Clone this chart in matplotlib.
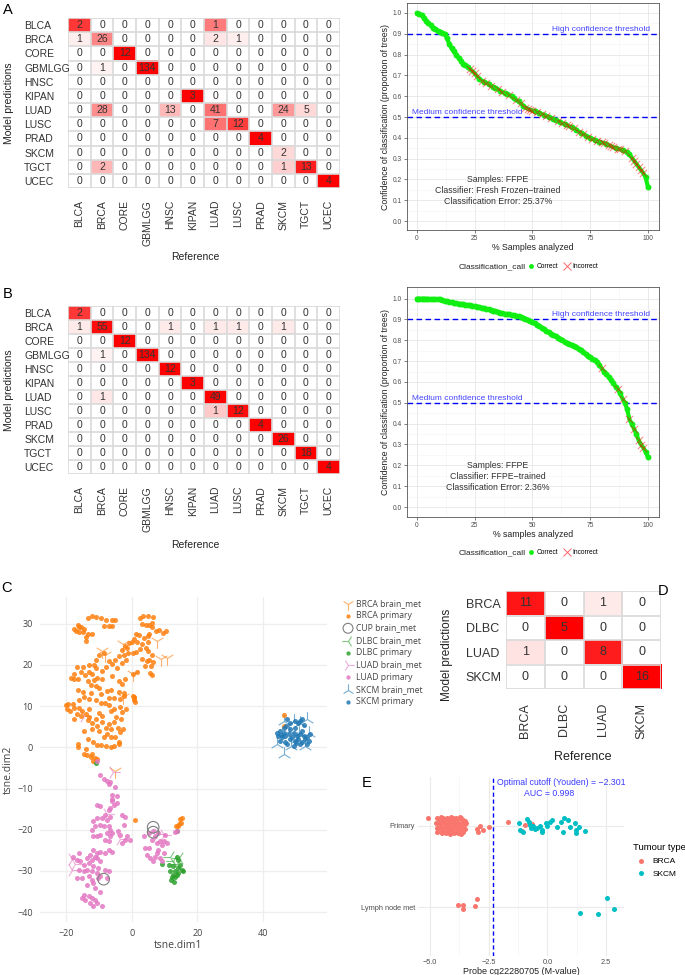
import numpy as np
import matplotlib
matplotlib.use('Agg')
import matplotlib.pyplot as plt
from matplotlib import colors
from matplotlib.lines import Line2D

plt.rcParams['font.family'] = ['Liberation Sans', 'DejaVu Sans']

W, H = 685, 975

# ---------------- data ----------------
classes = ['BLCA', 'BRCA', 'CORE', 'GBMLGG', 'HNSC', 'KIPAN',
           'LUAD', 'LUSC', 'PRAD', 'SKCM', 'TGCT', 'UCEC']

# rows = model predictions, cols = reference
cm_frozen = [
    [2, 0, 0, 0, 0, 0, 1, 0, 0, 0, 0, 0],
    [1, 26, 0, 0, 0, 0, 2, 1, 0, 0, 0, 0],
    [0, 0, 12, 0, 0, 0, 0, 0, 0, 0, 0, 0],
    [0, 1, 0, 134, 0, 0, 0, 0, 0, 0, 0, 0],
    [0, 0, 0, 0, 0, 0, 0, 0, 0, 0, 0, 0],
    [0, 0, 0, 0, 0, 3, 0, 0, 0, 0, 0, 0],
    [0, 28, 0, 0, 13, 0, 41, 0, 0, 24, 5, 0],
    [0, 0, 0, 0, 0, 0, 7, 12, 0, 0, 0, 0],
    [0, 0, 0, 0, 0, 0, 0, 0, 4, 0, 0, 0],
    [0, 0, 0, 0, 0, 0, 0, 0, 0, 2, 0, 0],
    [0, 2, 0, 0, 0, 0, 0, 0, 0, 1, 13, 0],
    [0, 0, 0, 0, 0, 0, 0, 0, 0, 0, 0, 4],
]
# all samples given each predicted label (tile shading = count / total)
pred_total_frozen = [3, 90, 12, 135, 0, 3, 111, 19, 4, 45, 16, 4]

cm_ffpe = [
    [2, 0, 0, 0, 0, 0, 0, 0, 0, 0, 0, 0],
    [1, 55, 0, 0, 1, 0, 1, 1, 0, 1, 0, 0],
    [0, 0, 12, 0, 0, 0, 0, 0, 0, 0, 0, 0],
    [0, 1, 0, 134, 0, 0, 0, 0, 0, 0, 0, 0],
    [0, 0, 0, 0, 12, 0, 0, 0, 0, 0, 0, 0],
    [0, 0, 0, 0, 0, 3, 0, 0, 0, 0, 0, 0],
    [0, 1, 0, 0, 0, 0, 49, 0, 0, 0, 0, 0],
    [0, 0, 0, 0, 0, 0, 1, 12, 0, 0, 0, 0],
    [0, 0, 0, 0, 0, 0, 0, 0, 4, 0, 0, 0],
    [0, 0, 0, 0, 0, 0, 0, 0, 0, 26, 0, 0],
    [0, 0, 0, 0, 0, 0, 0, 0, 0, 0, 18, 0],
    [0, 0, 0, 0, 0, 0, 0, 0, 0, 0, 0, 4],
]
pred_total_ffpe = [3, 60, 12, 135, 12, 3, 50, 13, 4, 26, 18, 4]

classes_brain = ['BRCA', 'DLBC', 'LUAD', 'SKCM']
cm_brain = [
    [11, 0, 1, 0],
    [0, 5, 0, 0],
    [1, 0, 8, 0],
    [0, 0, 0, 16],
]
pred_total_brain = [12, 5, 9, 16]

# sorted confidence of each sample (one value per % of samples)
conf_frozen = [1.00, 0.995, 0.99, 0.975, 0.96, 0.95, 0.94, 0.93, 0.925, 0.915,
               0.91, 0.905, 0.90, 0.88, 0.85, 0.83, 0.815, 0.80, 0.785, 0.77,
               0.755, 0.75, 0.74, 0.73, 0.72, 0.71, 0.695, 0.685, 0.675, 0.67,
               0.665, 0.66, 0.65, 0.645, 0.64, 0.635, 0.625, 0.62, 0.615, 0.61,
               0.605, 0.60, 0.59, 0.58, 0.575, 0.565, 0.555, 0.545, 0.54, 0.535,
               0.53, 0.53, 0.525, 0.52, 0.515, 0.51, 0.505, 0.50, 0.495, 0.49,
               0.485, 0.48, 0.475, 0.47, 0.465, 0.46, 0.455, 0.45, 0.445, 0.44,
               0.43, 0.425, 0.42, 0.41, 0.405, 0.40, 0.395, 0.39, 0.385, 0.38,
               0.378, 0.375, 0.37, 0.365, 0.36, 0.355, 0.35, 0.348, 0.345, 0.34,
               0.335, 0.33, 0.32, 0.305, 0.29, 0.275, 0.26, 0.245, 0.23, 0.21,
               0.165]
wrong_frozen = [23, 24, 25, 26, 28, 30, 32, 35, 37, 40, 43, 45, 47, 48, 49, 50,
                52, 54, 56, 58, 61, 63, 65, 66, 68, 70, 72, 74, 76, 78, 80, 81,
                83, 84, 85, 87, 88, 90, 93, 94, 95, 96, 97, 98]

conf_ffpe = [1.00, 1.00, 1.00, 1.00, 0.999, 0.999, 0.998, 0.998, 0.997, 0.997,
             0.996, 0.993, 0.99, 0.988, 0.985, 0.982, 0.98, 0.978, 0.976, 0.975,
             0.973, 0.971, 0.97, 0.968, 0.966, 0.964, 0.962, 0.96, 0.957, 0.954,
             0.951, 0.948, 0.945, 0.943, 0.94, 0.936, 0.932, 0.929, 0.927, 0.925,
             0.924, 0.922, 0.92, 0.918, 0.916, 0.913, 0.909, 0.904, 0.899, 0.893,
             0.887, 0.881, 0.875, 0.868, 0.861, 0.853, 0.845, 0.838, 0.832, 0.826,
             0.82, 0.813, 0.806, 0.80, 0.794, 0.788, 0.783, 0.778, 0.772, 0.766,
             0.76, 0.753, 0.745, 0.735, 0.727, 0.72, 0.712, 0.705, 0.695, 0.68,
             0.665, 0.65, 0.638, 0.625, 0.61, 0.595, 0.578, 0.565, 0.545, 0.52,
             0.50, 0.47, 0.42, 0.40, 0.375, 0.35, 0.32, 0.30, 0.285, 0.265,
             0.24]
wrong_ffpe = [80, 87, 89, 92, 94, 96, 97, 98]

# t-SNE of brain metastases + primaries
brca_met = [(-9.1, 23.4), (-8.3, 22.4), (-2.6, 25.2), (7.6, 25.9), (8.8, 21.5),
            (10.6, 21.6), (0.5, 17.9), (-2.6, 12.3), (-5.2, -5.7)]
brca_primary = [
    (-13.5, 31.5), (-12, 31.8), (-11, 31.7), (-9.5, 31.3), (-8, 30.8), (-6, 30.8),
    (-5, 30.8), (-8.5, 29.5), (-7, 29.4), (-6, 29.4), (-16.5, 29.7), (-15.5, 29.2),
    (-14.5, 28.8), (-17, 28.3), (-16, 28.0), (-15, 28.0), (-13.5, 27.5), (-12.2, 27.5),
    (-14, 26.8), (-14, 25.9), (-16, 29.2), (-17.5, 28.8),
    (2.5, 31.5), (3.5, 32), (5, 31.8), (6.5, 31.6), (3, 30), (4.2, 29.7), (5.2, 29.7),
    (6.2, 30.3), (6, 29.2), (7.5, 28.2), (8.3, 28.6), (9.5, 27.8), (10.3, 28.3),
    (5.2, 27.6), (4.8, 27), (3.6, 26.5), (2.3, 27.3), (1.2, 27.5), (0.8, 26.3),
    (1.5, 25.5), (0, 25.5), (-1, 25.3), (-1.5, 24.2), (3, 25), (5, 25.5),
    (-3, 23.6), (-2, 24.5), (-1.2, 23), (-2.5, 22.5), (-4, 22.2), (-5, 21.3),
    (-6, 20.3), (-7, 21), (-8.5, 22.8), (-10, 22.5), (-11, 21.2), (-8, 19.5),
    (-4.5, 19.3), (-3, 20.5), (-1.8, 21.3), (0.3, 22.8), (1.3, 23.2), (2.5, 23.8),
    (4.2, 24.0), (5, 23.3), (6, 22.3), (5.2, 21.2), (6.4, 20.8), (5.8, 19.8),
    (4.5, 21), (3, 21.5), (4, 19.8), (5.5, 18), (6, 17.5), (0.5, 17.8), (1.5, 18.3),
    (-2.2, 16.5), (-3, 15.5), (-6, 17.2), (-4, 16),
    (-16.7, 19.5), (-15, 19.6), (-13, 20.1), (-11.5, 20.0), (-10.8, 19.3), (-13, 18.2),
    (-15.5, 18.3), (-17.5, 17.8), (-18.5, 16.8), (-17.6, 16.5), (-16.5, 16.5),
    (-14.2, 17.5), (-12.2, 17.8), (-11.6, 16.4), (-10.5, 16.8), (-9, 18.5), (-9.2, 16.5),
    (-13.3, 16.2), (-12.5, 15.2), (-11, 14.8), (-10, 14.3), (-16.3, 14.0), (-15, 13.5),
    (-12.5, 13.2), (-9.5, 12.9), (-7.5, 13.8), (-6.5, 13.9), (-4, 13.5), (-2.5, 13.2),
    (-14.6, 12.2), (-16, 11.5), (-13, 11.8), (-11, 11.6), (-7, 12.1), (-5.5, 12),
    (-3.5, 11.7), (-2.5, 12.5), (-18, 10.5), (-19.5, 10.6), (-20, 10.2), (-19.8, 9.3),
    (-19, 8.8), (-17.5, 9.5), (-16, 9.5), (-16.8, 8.2), (-15.2, 8.8), (-14, 8.2),
    (-13, 9.2), (-15.5, 7.5), (-17.5, 7), (-13, 7.3), (-11, 7), (-10, 8.3), (-9, 7.5),
    (-8.2, 10.8), (-9.5, 10.8), (-7, 10.3), (-5.5, 9.4), (-6.5, 8.9), (-3.5, 9.7),
    (-1.8, 9.3), (-3, 8.7), (-4.7, 7.3), (-3.4, 7), (-5.3, 6.1), (-7, 5.6), (-9, 6.2),
    (-10.5, 5.2), (-12, 5.8), (-13.5, 6.7), (-14.5, 4.0), (-12, 4.5), (-10, 4.0),
    (-8, 4.7), (-6.5, 4.5), (-4.3, 4.8), (-2.8, 4.4), (-3.6, 3.7), (-7.5, 3.2),
    (-8.5, 2.5), (-6.5, 2.6), (-5, 2.5), (-13.5, 2.1), (-11.8, 1.3), (-10.5, 0.6),
    (-9.5, 0.6), (-8, 0.3), (-6.5, 0.2), (-5.4, 0.3), (-4, 1.2), (-3.8, 0.7),
    (-16.3, 0.8), (-16.5, 0.2), (-14, -0.5), (-13.8, -1.8), (-12.5, -2.4),
    (-11.3, -2.6), (-11.8, -3.2), (-10.6, -2.9), (-14.7, -1.5), (-12.2, -1.6),
    (0.5, 12.5), (0.8, 12.0), (0.6, 11.5), (0.9, 11.0), (0.7, 12.2),
    (1.0, -17.6), (14.8, -17.5), (15.3, -17.2), (15.1, -18.3), (14.5, -18.7),
    (14.0, -19.0), (13.6, -19.2), (46.4, 7.9), (46.4, 5.3)]
cup_met = [(6.5, -19.4), (6.5, -20.6), (-8.6, -32.0)]
dlbc_met = [(11.7, -26.6), (12.6, -27.6), (13.7, -28.4), (14.3, -26.9)]
dlbc_primary = [(-11.0, -3.8), (13.9, -20.3), (9.3, -28.3), (13.7, -26.5),
                (14.2, -27.3), (11.2, -28.5), (12.7, -28.9), (14.2, -29.3),
                (15.2, -29.7), (15.7, -30.1), (11.7, -30.1), (13.2, -30.1),
                (12.7, -30.9), (13.7, -30.9), (12.2, -31.5), (13.2, -31.5),
                (14.2, -30.5), (14.7, -28.5), (12.0, -32.3), (13.0, -32.6)]
luad_met = [(-14.5, 7.7), (-5.6, -6.0), (-7.6, -16.2), (-3.5, -22.3), (-18.3, -27.1),
            (-17.3, -28.3), (-18.3, -29.7), (8.1, -21.1), (9.7, -21.2)]
luad_primary = [
    (-10.7, -3.3), (-9.6, -6.75), (-8.6, -7.6), (-7.6, -8.1), (-6.6, -8.5),
    (-7.1, -8.9), (-5.1, -9.7), (-6.1, -11.6), (-4.6, -11.9), (-6.1, -12.6),
    (-4.6, -13.4), (-10.65, -13.9), (-9.64, -14.3), (-6.08, -13.1), (-5.57, -13.9),
    (-6.59, -14.7), (-7.1, -15.1), (-8.1, -16.4), (-6.6, -16.8), (-9.1, -17.2),
    (-7.6, -17.6), (-10.7, -17.2), (-11.7, -18.0), (-9.6, -18.8), (-11.2, -19.2),
    (-12.2, -20.0), (-8.6, -19.2), (-7.1, -19.2), (-6.6, -20.0), (-6.1, -20.8),
    (-7.6, -20.8), (-9.6, -21.2), (-10.7, -21.6), (-11.7, -21.6), (-6.6, -21.6),
    (-8.1, -22.4), (-7.1, -22.8), (-3.0, -16.4), (-2.0, -16.8), (-2.5, -18.8),
    (-4.1, -20.4), (-3.5, -21.2), (-1.5, -21.6), (-2.0, -22.4), (-0.5, -22.4),
    (-3.0, -23.2), (-7.1, -24.9), (-6.1, -25.3), (-8.1, -25.7), (-9.6, -25.3),
    (-10.7, -25.7), (-11.7, -24.9), (-12.7, -26.1), (-11.2, -26.5), (-13.7, -26.9),
    (-12.2, -27.3), (-10.7, -26.9), (-9.6, -27.7), (-16.2, -25.7), (-17.8, -26.5),
    (-16.8, -27.3), (-15.7, -27.7), (-14.7, -28.5), (-13.2, -28.1), (-11.7, -28.9),
    (-10.2, -29.3), (-8.1, -29.7), (-7.1, -30.1), (-16.2, -29.7), (-14.7, -30.1),
    (-13.7, -29.7), (-12.2, -30.1), (-10.7, -30.5), (-9.6, -31.3), (-16.8, -31.7),
    (-15.2, -31.7), (-13.2, -31.3), (-12.2, -32.1), (-11.7, -32.9), (-10.2, -31.7),
    (-13.7, -33.4), (-11.2, -34.2), (-9.6, -35.0), (-14.7, -35.8), (-13.2, -36.2),
    (-12.2, -36.6), (-11.2, -37.0), (-12.7, -37.8), (-10.7, -37.8), (-9.1, -38.6),
    (-11.7, -38.6), (-15.2, -36.6), (-14.2, -37.0), (-7.6, -31.7),
    (3.6, -21.6), (4.1, -24.4), (5.1, -24.4), (6.1, -22.4), (7.1, -21.6), (8.1, -20.8),
    (7.6, -23.2), (8.7, -22.8), (9.2, -23.6), (9.7, -22.8), (8.1, -24.9), (7.6, -25.7),
    (9.7, -25.7), (7.1, -26.5), (8.7, -26.9), (4.6, -26.1), (5.6, -26.9), (6.6, -27.7),
    (9.2, -27.7), (10.7, -23.2), (10.2, -21.2), (5.1, -20.8), (6.6, -20.4),
    (13.7, -20.4), (13.2, -20.6)]
skcm_met = [(46.3, 6.4), (49.4, 6.4), (51.4, 6.0), (53.5, 6.8), (47.9, 4.0),
            (51.0, 3.6), (54.0, 3.6), (44.2, 0.8), (46.3, -1.6), (50.3, 2.0),
            (52.9, 0.4), (48.4, 0.4)]
skcm_primary = [
    (47.3, 6.85), (48.3, 6.0), (49.8, 6.4), (50.8, 6.0), (51.3, 6.4), (51.8, 6.85),
    (44.2, 3.6), (45.2, 4.0), (46.3, 3.6), (44.7, 2.8), (45.8, 2.4), (46.8, 2.8),
    (47.8, 3.2), (49.3, 3.6), (50.3, 2.8), (51.3, 3.2), (52.4, 2.8), (53.4, 2.4),
    (54.4, 3.2), (45.2, 1.6), (46.8, 1.2), (48.3, 2.0), (49.8, 1.6), (50.8, 2.0),
    (51.8, 1.2), (52.9, 2.0), (53.9, 1.6), (47.3, 0.8), (49.3, 0.4), (51.3, 0.8),
    (53.4, 0.8), (46.3, 4.8), (48.3, 4.4), (49.8, 4.8), (47.0, 5.2), (52.6, 5.5),
    (48.9, 2.6), (50.0, 1.0), (45.5, 3.1), (52.0, 3.9)]

# probe cg22280705 M-values (y: 2 = Primary, 1 = Lymph node met, with jitter)
probe_brca_x = [-4.70, -4.62, -4.52, -4.44, -4.36, -4.27, -4.20, -4.12, -4.03, -3.96,
                -3.88, -3.80, -3.73, -3.66, -3.58, -3.50,
                -4.74, -4.66, -4.56, -4.48, -4.40, -4.31, -4.24, -4.16, -4.08, -4.00,
                -3.92, -3.84, -3.77, -3.69, -3.61, -3.53, -3.46,
                -4.71, -4.61, -4.53, -4.45, -4.37, -4.29, -4.21, -4.13, -4.05, -3.97,
                -3.89, -3.81, -3.74, -3.66, -3.59, -3.52,
                -4.68, -4.55, -4.47, -4.38, -4.30, -4.22, -4.14, -4.06, -3.98, -3.90,
                -3.82, -3.75, -3.67, -3.60,
                -5.07, -3.01, -2.94, -2.87, -2.73, -2.47, -1.68, -1.08, -0.95, -0.67,
                -3.80, -3.60, -3.58, -3.09, -3.01]
probe_brca_y = [2.10, 2.08, 2.11, 2.09, 2.07, 2.10, 2.08, 2.11, 2.09, 2.07,
                2.10, 2.08, 2.11, 2.09, 2.07, 2.06,
                2.03, 2.04, 2.02, 2.05, 2.03, 2.01, 2.04, 2.02, 2.05, 2.03,
                2.01, 2.04, 2.02, 2.03, 2.04, 2.02, 2.03,
                1.97, 1.97, 1.98, 1.96, 1.99, 1.97, 1.95, 1.98, 1.96, 1.99,
                1.97, 1.95, 1.98, 1.96, 1.97, 1.96,
                1.92, 1.92, 1.91, 1.93, 1.91, 1.92, 1.90, 1.92, 1.91, 1.93,
                1.91, 1.92, 1.90, 1.92,
                2.10, 1.96, 1.93, 2.00, 1.95, 1.98, 2.05, 1.94, 2.01, 2.02,
                1.03, 1.03, 0.98, 1.02, 1.10]
probe_skcm_x = [-1.21, -1.17, -1.06, -0.86, -0.77, -0.74, -0.72, -0.63, -0.53, -0.46,
                -0.25, -0.21, -0.32, -0.06, 0.00, 0.11, 0.21, 0.39, 0.56, 0.65,
                0.72, 0.86, 0.96, 1.17, 1.21, 1.21, 1.36, 1.60,
                2.52, 2.83, 1.38, 2.16]
probe_skcm_y = [2.04, 1.95, 1.93, 2.08, 2.05, 2.01, 1.97, 2.00, 1.96, 1.97,
                1.95, 1.92, 2.00, 2.04, 2.00, 2.05, 2.07, 1.98, 2.05, 1.93,
                2.09, 2.07, 1.98, 2.04, 1.91, 1.95, 1.99, 1.94,
                1.11, 0.975, 0.93, 0.92]
cutoff = -2.301
auc = 0.998


def box(x0, y0, x1, y1):
    # pixel box of the 685x975 canvas -> figure fraction
    return [x0 / W, 1 - y1 / H, (x1 - x0) / W, (y1 - y0) / H]


def ftext(px, py, s, **kw):
    fig.text(px / W, 1 - py / H, s, **kw)


fig = plt.figure(figsize=(6.85, 9.75), dpi=100)
red_map = colors.LinearSegmentedColormap.from_list('wr', ['#ffffff', '#ff0000'])


def confusion(ax, mat, totals, labels, fs, ypad, xpad, gamma=0.6):
    m = np.array(mat, dtype=float)
    tot = np.array(totals, dtype=float)[:, None] * np.ones_like(m)
    frac = np.divide(m, tot, out=np.zeros_like(m), where=tot > 0)
    n = len(labels)
    ax.imshow(frac, cmap=red_map, norm=colors.PowerNorm(gamma, 0, 1),
              aspect='auto', interpolation='nearest')
    for i in range(n):
        for j in range(n):
            ax.text(j, i, '%d' % m[i, j], ha='center', va='center',
                    fontsize=fs, color='#333333')
    ax.set_xticks(range(n))
    ax.set_xticklabels(labels, rotation=90, fontsize=fs)
    ax.set_yticks(range(n))
    ax.set_yticklabels(labels, fontsize=fs, ha='left')
    ax.tick_params(length=0, colors='#333333')
    ax.tick_params(axis='y', pad=ypad)
    ax.tick_params(axis='x', pad=xpad)
    ax.set_xticks(np.arange(-0.5, n), minor=True)
    ax.set_yticks(np.arange(-0.5, n), minor=True)
    ax.tick_params(which='minor', length=0)
    ax.grid(which='minor', color='#d9d9d9', lw=1.2)
    for s in ax.spines.values():
        s.set_visible(False)


def confidence(ax, conf, wrong, xlab, clf, err):
    conf = np.array(conf)
    n = len(conf)
    pct = np.arange(n) * 100.0 / (n - 1)
    ok = np.ones(n, bool)
    ok[wrong] = False
    ax.plot(pct, conf, color='#11ee11', lw=3, solid_capstyle='round', zorder=3)
    ax.scatter(pct[ok], conf[ok], s=18, color='#11ee11', lw=0, zorder=3)
    ax.scatter(pct[~ok], conf[~ok], s=28, marker='x', color='red', alpha=0.5,
               lw=0.7, zorder=4)
    for yv in (0.9, 0.5):
        ax.axhline(yv, color='#0000ff', ls=(0, (4, 2.5)), lw=1, zorder=2)
    ax.text(101, 0.906, 'High confidence threshold', color='#4444ff',
            ha='right', va='bottom', fontsize=6)
    ax.text(-2.3, 0.506, 'Medium confidence threshold', color='#4444ff',
            ha='left', va='bottom', fontsize=6)
    ax.text(35, 0.2, 'Samples: FFPE', ha='center', va='center', fontsize=6.3,
            color='#333333')
    ax.text(35, 0.147, 'Classifier: ' + clf, ha='center', va='center',
            fontsize=6.3, color='#333333')
    ax.text(35, 0.094, 'Classification Error: ' + err, ha='center',
            va='center', fontsize=6.3, color='#333333')
    ax.set_xticks([0, 25, 50, 75, 100])
    ax.set_xticks(np.arange(-12.5, 113, 25), minor=True)
    ax.set_yticks(np.arange(0, 1.01, 0.1))
    ax.set_yticklabels(['%.1f' % v for v in np.arange(0, 1.01, 0.1)])
    ax.set_yticks(np.arange(0.05, 1.05, 0.1), minor=True)
    ax.grid(which='major', color='#e6e6e6', lw=0.6)
    ax.grid(which='minor', color='#f3f3f3', lw=0.4)
    ax.set_axisbelow(True)
    ax.tick_params(labelsize=4.8, colors='#4d4d4d', length=2, width=0.5, pad=1.5)
    ax.tick_params(which='minor', length=0)
    for s in ax.spines.values():
        s.set_color('#555555')
        s.set_linewidth(0.6)
    ax.set_xlabel(xlab, fontsize=6.3, labelpad=1, color='#222222')
    ax.set_ylabel('Confidence of classification (proportion of trees)',
                  fontsize=6.3, labelpad=2, color='#222222')


def call_legend(py):
    ftext(459, py, 'Classification_call', fontsize=6, va='center',
          color='#222222')
    hs = [Line2D([], [], ls='', marker='o', ms=3.5, color='#11ee11', mec='none'),
          Line2D([], [], ls='', marker='x', ms=5.5, color='red', alpha=0.6, mew=0.7)]
    fig.legend(hs, ['Correct', 'Incorrect'], ncol=2, loc='center left',
               bbox_to_anchor=(527 / W, 1 - py / H), frameon=False,
               fontsize=4.8, handletextpad=0.2, columnspacing=0.8,
               handlelength=1.2, borderaxespad=0, borderpad=0)


# ---------------- A ----------------
axA = fig.add_axes(box(68, 18, 340, 188))
confusion(axA, cm_frozen, pred_total_frozen, classes, 7.5, 31.5, 8.5)
ftext(195, 257, 'Reference', fontsize=7.5, ha='center', va='center', color='#222222')
ftext(9, 103, 'Model predictions', fontsize=7.5, rotation=90, ha='center',
      va='center', color='#222222')

axA2 = fig.add_axes(box(407, 3, 659, 230))
confidence(axA2, conf_frozen, wrong_frozen, '% Samples analyzed',
           'Fresh Frozen\u2212trained', '25.37%')
axA2.set_xlim(-4.3, 104.8)
axA2.set_ylim(-0.043, 1.048)
call_legend(267)

# ---------------- B ----------------
axB = fig.add_axes(box(68, 306, 340, 474))
confusion(axB, cm_ffpe, pred_total_ffpe, classes, 7.5, 31.5, 8.5)
ftext(195, 545, 'Reference', fontsize=7.5, ha='center', va='center', color='#222222')
ftext(9, 390, 'Model predictions', fontsize=7.5, rotation=90, ha='center',
      va='center', color='#222222')

axB2 = fig.add_axes(box(407, 287, 659, 517))
confidence(axB2, conf_ffpe, wrong_ffpe, '% samples analyzed',
           'FFPE\u2212trained', '2.36%')
axB2.set_xlim(-4.3, 104.8)
axB2.set_ylim(-0.048, 1.056)
call_legend(553)

# ---------------- C ----------------
axC = fig.add_axes(box(40, 597, 327, 922))
groups = [
    ('BRCA brain_met', brca_met, '#ff7f0e', '1'),
    ('BRCA primary', brca_primary, '#ff7f0e', 'o'),
    ('CUP brain_met', cup_met, '#7f7f7f', 'open'),
    ('DLBC brain_met', dlbc_met, '#2ca02c', '3'),
    ('DLBC primary', dlbc_primary, '#2ca02c', 'o'),
    ('LUAD brain_met', luad_met, '#e377c2', '4'),
    ('LUAD primary', luad_primary, '#e377c2', 'o'),
    ('SKCM brain_met', skcm_met, '#1f77b4', '2'),
    ('SKCM primary', skcm_primary, '#1f77b4', 'o'),
]
for name, pts, col, mk in groups:
    xs = [p[0] for p in pts]
    ys = [p[1] for p in pts]
    if mk == 'o':
        axC.scatter(xs, ys, s=13, color=col, alpha=0.85, lw=0, label=name, zorder=3)
    elif mk == 'open':
        axC.scatter(xs, ys, s=70, facecolors='none', edgecolors=col, lw=0.8,
                    label=name, zorder=4)
    else:
        axC.scatter(xs, ys, s=110, marker=mk, color=col, alpha=0.6, lw=0.8,
                    label=name, zorder=2)
axC.set_xlim(-28, 59.5)
axC.set_ylim(-42.4, 36.5)
axC.set_xticks([-20, 0, 20, 40])
axC.set_yticks(range(-40, 31, 10))
axC.set_xticklabels(['\u221220', '0', '20', '40'])
axC.set_yticklabels(['\u221240', '\u221230', '\u221220', '\u221210', '0', '10', '20', '30'])
axC.grid(color='#eeeeee', lw=0.9)
axC.set_axisbelow(True)
axC.tick_params(length=0, labelsize=6.5, colors='#444444', pad=5)
for lab in axC.get_xticklabels() + axC.get_yticklabels():
    lab.set_fontfamily(['Open Sans', 'DejaVu Sans'])
for s in axC.spines.values():
    s.set_visible(False)
ftext(178, 946, 'tsne.dim1', fontsize=7.5, ha='center', va='center',
      color='#444444', family=['Open Sans', 'DejaVu Sans'])
ftext(8, 770, 'tsne.dim2', fontsize=7.5, ha='center', va='center',
      rotation=90, color='#444444', family=['Open Sans', 'DejaVu Sans'])
legC = axC.legend(loc='upper left', bbox_to_anchor=(342 / W, 1 - 599 / H),
                  bbox_transform=fig.transFigure, frameon=False,
                  prop={'family': ['Open Sans', 'DejaVu Sans'], 'size': 6.2},
                  labelspacing=0.38, handletextpad=0.25, handlelength=1.4,
                  borderaxespad=0, borderpad=0, markerscale=0.85)
for t in legC.get_texts():
    t.set_color('#444444')

# ---------------- D ----------------
axD = fig.add_axes(box(506, 591, 661, 689))
confusion(axD, cm_brain, pred_total_brain, classes_brain, 9, 29, 10, gamma=1.0)
ftext(583, 757, 'Reference', fontsize=9, ha='center', va='center', color='#222222')
ftext(447, 655, 'Model predictions', fontsize=8.5, rotation=90, ha='center',
      va='center', color='#222222')

# ---------------- E ----------------
axE = fig.add_axes(box(418, 777, 624, 956))
axE.scatter(probe_brca_x, probe_brca_y, s=13, color='#F8766D', lw=0, label='BRCA',
            zorder=3)
axE.scatter(probe_skcm_x, probe_skcm_y, s=13, color='#00BFC4', lw=0, label='SKCM',
            zorder=3)
axE.axvline(cutoff, color='#0000ff', ls=(0, (3, 2)), lw=1, zorder=2)
axE.text(cutoff + 0.15, 2.53, 'Optimal cutoff (Youden) = \u22122.301',
         color='#3b3bff', fontsize=6.3, ha='left', va='center')
axE.text(0.06, 2.395, 'AUC = %.3f' % auc, color='#3b3bff', fontsize=6.3,
         ha='center', va='center')
axE.set_xlim(-5.51, 3.26)
axE.set_ylim(0.4, 2.6)
axE.set_xticks([-5.0, -2.5, 0.0, 2.5])
axE.set_xticklabels(['\u22125.0', '\u22122.5', '0.0', '2.5'])
axE.set_xticks([-3.75, -1.25, 1.25], minor=True)
axE.set_yticks([1, 2])
axE.set_yticklabels(['Lymph node met', 'Primary'])
axE.grid(which='major', color='#ebebeb', lw=0.8)
axE.grid(which='minor', axis='x', color='#f4f4f4', lw=0.5)
axE.set_axisbelow(True)
axE.tick_params(which='both', length=0, labelsize=5.3, colors='#4d4d4d', pad=2)
for s in axE.spines.values():
    s.set_visible(False)
axE.set_xlabel('Probe cg22280705 (M-value)', fontsize=6.5, labelpad=1,
               color='#222222')
axE.legend(title='Tumour type', loc='upper left',
           bbox_to_anchor=(633 / W, 1 - 843 / H), bbox_transform=fig.transFigure,
           frameon=False, fontsize=6, title_fontsize=6.8, handletextpad=0.3,
           labelspacing=0.6, borderaxespad=0, borderpad=0, markerscale=1.0,
           alignment='left')

# panel letters
for lab, px, py in [('A', 8, 10), ('B', 8, 294), ('C', 6, 588), ('D', 663, 591),
                    ('E', 367, 783)]:
    ftext(px, py, lab, fontsize=10.5, ha='center', va='center')

fig.savefig('out.png', dpi=100)
